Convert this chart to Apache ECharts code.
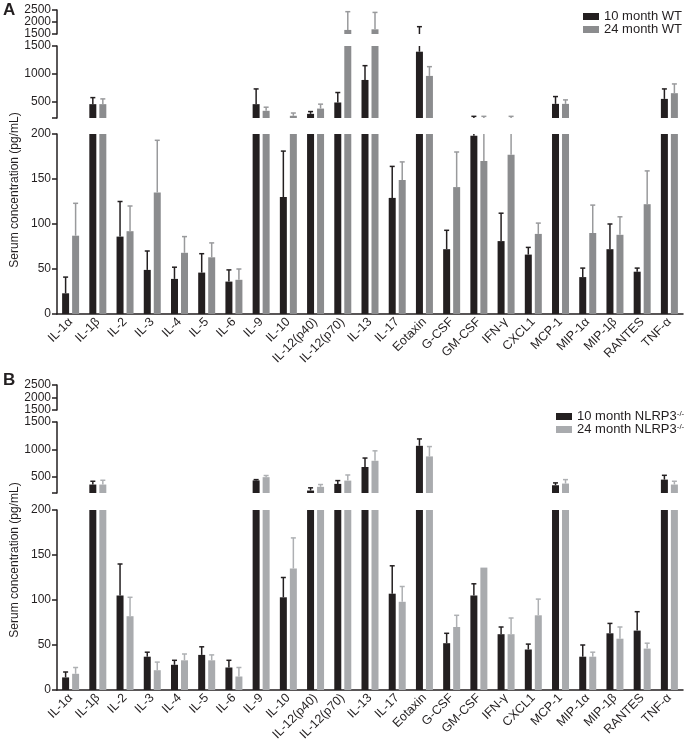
<!DOCTYPE html>
<html><head><meta charset="utf-8">
<script src="https://cdn.jsdelivr.net/npm/echarts@6/dist/echarts.min.js"></script>
<style>html,body{margin:0;padding:0;background:#fff}#c{width:686px;height:749px}</style>
</head><body><div id="c"></div>
<script>
const categories = ['IL-1α','IL-1β','IL-2','IL-3','IL-4','IL-5','IL-6','IL-9','IL-10','IL-12(p40)','IL-12(p70)','IL-13','IL-17','Eotaxin','G-CSF','GM-CSF','IFN-γ','CXCL1','MCP-1','MIP-1α','MIP-1β','RANTES','TNF-α'];

// Panel A (WT): mean and top of error bar (mean + SEM), pg/mL
const wt10Mean = [23, 450, 86, 49, 39, 46, 36, 450, 130, 275, 480, 887, 129, 1397, 72, 198, 81, 66, 455, 41, 72, 47, 545];
const wt10Err  = [41, 568, 125, 70, 52, 67, 49, 725, 181, 316, 660, 1145, 164, 1805, 93, 230, 112, 74, 587, 51, 100, 51, 725];
const wt24Mean = [87, 450, 92, 135, 68, 63, 38, 330, 240, 370, 1670, 1695, 149, 960, 141, 170, 177, 89, 455, 90, 88, 122, 648];
const wt24Err  = [123, 545, 120, 193, 86, 79, 50, 395, 290, 450, 2430, 2400, 169, 1127, 180, 230, 230, 101, 527, 121, 108, 159, 815];

// Panel B (NLRP3-/-)
const ko10Mean = [14, 355, 105, 37, 28, 39, 25, 430, 103, 245, 367, 676, 107, 1064, 52, 105, 62, 45, 342, 37, 63, 66, 445];
const ko10Err  = [20, 415, 140, 42, 33, 48, 33, 445, 125, 295, 427, 840, 138, 1190, 63, 118, 70, 51, 385, 50, 74, 87, 524];
const ko24Mean = [18, 355, 82, 22, 33, 33, 15, 490, 135, 313, 427, 790, 98, 870, 70, 136, 62, 83, 373, 37, 57, 46, 355];
const ko24Err  = [25, 433, 103, 31, 40, 39, 25, 520, 169, 355, 530, 972, 115, 1050, 83, 136, 80, 101, 445, 42, 70, 52, 415];

// Broken y-axis segments (value ranges)
const segTop = {min: 1500, max: 2500, ticks: [1500, 2000, 2500], labels: [1500, 2000, 2500]};
const segMid = {min: 200, max: 1500, ticks: [200, 500, 1000, 1500], labels: [500, 1000, 1500]};
const segLow = {min: 0, max: 200, ticks: [0, 50, 100, 150, 200], labels: [0, 50, 100, 150, 200]};

const FONT = 'Liberation Sans, Arial, Helvetica, sans-serif';
const INK = '#231f20';
const BAR_W = 7, BAR_GAP = 3;

const panels = [
  {tops: [[10, 24], [46, 72], [134, 180]], names: ['10 month WT', '24 month WT'],
   means: [wt10Mean, wt24Mean], errs: [wt10Err, wt24Err],
   colors: ['#231f20', '#8b8c8e'], errColors: ['#231f20', '#999a9c']},
  {tops: [[385, 25], [422, 71], [510, 180]], names: ['10 month NLRP3-/-', '24 month NLRP3-/-'],
   means: [ko10Mean, ko24Mean], errs: [ko10Err, ko24Err],
   colors: ['#231f20', '#a9abae'], errColors: ['#231f20', '#aeb0b3']}
];
const segs = [segTop, segMid, segLow];

const grid = [], xAxis = [], yAxis = [], series = [];
panels.forEach((p, pi) => {
  segs.forEach((s, si) => {
    const gi = grid.length;
    grid.push({left: 57, right: 3, top: p.tops[si][0], height: p.tops[si][1]});
    const isLow = si === 2;
    xAxis.push({
      type: 'category', data: categories, gridIndex: gi, show: isLow,
      axisLine: {lineStyle: {color: INK, width: 1.5}},
      axisTick: {alignWithLabel: true, length: 5, lineStyle: {color: INK, width: 1.5}},
      axisLabel: {rotate: 45, interval: 0, fontSize: 12.5, color: INK, fontFamily: FONT, margin: 6}
    });
    yAxis.push({
      type: 'value', gridIndex: gi, min: s.min, max: s.max,
      splitLine: {show: false},
      axisLine: {show: true, lineStyle: {color: INK, width: 1.5}},
      axisTick: {show: true, length: 5, lineStyle: {color: INK, width: 1.5}, customValues: s.ticks},
      axisLabel: {fontSize: 12, lineHeight: 10, color: INK, fontFamily: FONT, margin: 6, customValues: s.labels,
        hideOverlap: false, showMinLabel: true, showMaxLabel: true,
        formatter: v => String(v)}
    });
    [0, 1].forEach(k => {
      series.push({
        type: 'bar', name: p.names[k], xAxisIndex: gi, yAxisIndex: gi,
        data: p.means[k], barWidth: BAR_W, barGap: (BAR_GAP / BAR_W * 100) + '%',
        itemStyle: {color: p.colors[k]}, clip: true, silent: true
      });
    });
    [0, 1].forEach(k => {
      const side = k === 0 ? -1 : 1;
      const col = p.errColors[k];
      series.push({
        type: 'custom', name: p.names[k], xAxisIndex: gi, yAxisIndex: gi, z: 3, silent: true,
        data: p.means[k].map((m, i) => [i, m, p.errs[k][i]]),
        renderItem(params, api) {
          const cat = api.value(0), m = api.value(1), e = api.value(2);
          if (!(e > m)) return;
          const off = side * (BAR_W + BAR_GAP) / 2;
          const p0 = api.coord([cat, m]), p1 = api.coord([cat, e]);
          const cs = params.coordSys;
          const top = cs.y, bot = cs.y + cs.height;
          const x = p0[0] + off;
          const y0 = Math.min(p0[1], bot), y1 = Math.max(p1[1], top);
          const children = [];
          if (y0 > y1) {
            children.push({type: 'line', shape: {x1: x, y1: y0, x2: x, y2: y1}, style: {stroke: col, lineWidth: 1.5}});
          }
          if (p1[1] >= top - 0.5 && p1[1] <= bot) {
            children.push({type: 'line', shape: {x1: x - 2.5, y1: p1[1], x2: x + 2.5, y2: p1[1]}, style: {stroke: col, lineWidth: 1.5}});
          }
          return {type: 'group', children};
        }
      });
    });
  });
});

const legendBase = {
  orient: 'vertical', icon: 'rect', itemWidth: 16, itemHeight: 7, itemGap: 0,
  textStyle: {fontSize: 13, color: INK, fontFamily: FONT}, selectedMode: false
};

const option = {
  animation: false,
  grid, xAxis, yAxis, series,
  legend: [
    Object.assign({}, legendBase, {data: panels[0].names, left: 578, top: 5}),
    Object.assign({}, legendBase, {
      data: panels[1].names, left: 551, top: 405,
      formatter: n => n.replace('-/-', '{s|-/-}'),
      textStyle: {fontSize: 13, color: INK, fontFamily: FONT,
        rich: {s: {fontSize: 8, verticalAlign: 'top', color: INK, fontFamily: FONT}}}
    })
  ],
  graphic: [
    {type: 'text', x: 3, y: 2, style: {text: 'A', font: 'bold 17px ' + FONT, fill: INK}},
    {type: 'text', x: 3, y: 372, style: {text: 'B', font: 'bold 17px ' + FONT, fill: INK}},
    {type: 'text', x: 15, y: 190, rotation: Math.PI / 2,
     style: {text: 'Serum concentration (pg/mL)', font: '12px ' + FONT, fill: INK, textAlign: 'center', textVerticalAlign: 'middle'}},
    {type: 'text', x: 15, y: 560, rotation: Math.PI / 2,
     style: {text: 'Serum concentration (pg/mL)', font: '12px ' + FONT, fill: INK, textAlign: 'center', textVerticalAlign: 'middle'}}
  ]
};
const chart = echarts.init(document.getElementById('c'), null, {renderer: 'canvas'});
chart.setOption(option);
</script></body></html>
